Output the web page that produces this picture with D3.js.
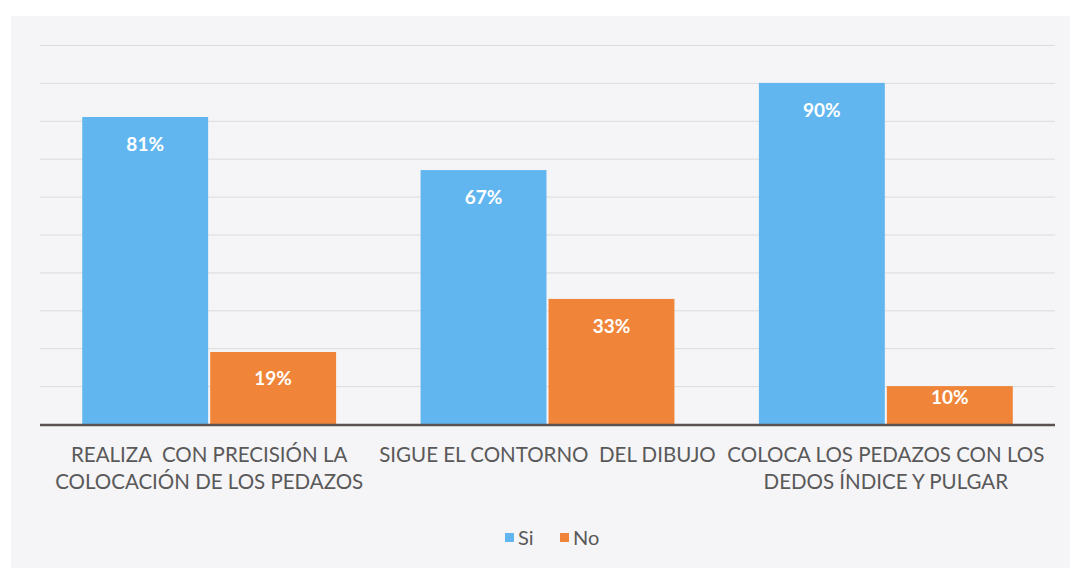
<!DOCTYPE html>
<html>
<head>
<meta charset="utf-8">
<script src="https://cdn.jsdelivr.net/npm/d3@7"></script>
<style>
  html, body { margin: 0; padding: 0; background: #ffffff; }
  svg { display: block; }
  text { font-family: Lato, "Open Sans", sans-serif; }
</style>
</head>
<body>
<div id="chart"></div>
<script>
// data
const categories = [
  ['REALIZA  CON PRECISIÓN LA', 'COLOCACIÓN DE LOS PEDAZOS'],
  ['SIGUE EL CONTORNO  DEL DIBUJO'],
  ['COLOCA LOS PEDAZOS CON LOS', 'DEDOS ÍNDICE Y PULGAR'],
];
const seriesNames = ['Si', 'No'];
const siValues = [81, 67, 90];
const noValues = [19, 33, 10];
const yTicks = [0, 10, 20, 30, 40, 50, 60, 70, 80, 90, 100];

const colors = { Si: '#62b6f0', No: '#f08539' };
const width = 1070, height = 568;
const margin = { top: 45, right: 15, bottom: 144, left: 40 };

const svg = d3.select('#chart').append('svg')
  .attr('width', width)
  .attr('height', height);

// light panel behind the chart
svg.append('rect')
  .attr('x', 11).attr('y', 16)
  .attr('width', width - 11).attr('height', height - 16)
  .attr('fill', '#f5f4f6');

const x0 = d3.scaleBand()
  .domain(d3.range(categories.length))
  .range([margin.left, width - margin.right])
  .paddingInner(0)
  .paddingOuter(0);

const x1 = d3.scaleBand()
  .domain(seriesNames)
  .range([0, x0.bandwidth()])
  .paddingInner(0.016)
  .paddingOuter(0.33);

const y = d3.scaleLinear()
  .domain([0, 100])
  .range([height - margin.bottom, margin.top]);

// gridlines
svg.append('g')
  .selectAll('line')
  .data(yTicks.slice(1))
  .join('line')
  .attr('x1', margin.left)
  .attr('x2', width - margin.right)
  .attr('y1', d => y(d) + 0.5)
  .attr('y2', d => y(d) + 0.5)
  .attr('stroke', '#dcdcdc')
  .attr('stroke-width', 1);

const rows = categories.map((c, i) => ({ idx: i, Si: siValues[i], No: noValues[i] }));

const groups = svg.append('g')
  .selectAll('g')
  .data(rows)
  .join('g')
  .attr('transform', d => `translate(${x0(d.idx)},0)`);

groups.selectAll('rect')
  .data(d => seriesNames.map(k => ({ key: k, value: d[k] })))
  .join('rect')
  .attr('x', d => x1(d.key))
  .attr('y', d => y(d.value))
  .attr('width', x1.bandwidth())
  .attr('height', d => y(0) - y(d.value))
  .attr('fill', d => colors[d.key]);

// labels sit inside the bar end, pulled up on short bars
groups.selectAll('text.val')
  .data(d => seriesNames.map(k => ({ key: k, value: d[k] })))
  .join('text')
  .attr('class', 'val')
  .attr('x', d => x1(d.key) + x1.bandwidth() / 2)
  .attr('y', d => y(d.value) + Math.min(34, (y(0) - y(d.value)) * 0.46))
  .attr('text-anchor', 'middle')
  .attr('fill', '#ffffff')
  .attr('font-weight', 'bold')
  .attr('font-size', 19)
  .text(d => d.value + '%');

// baseline
svg.append('line')
  .attr('x1', margin.left)
  .attr('x2', width - margin.right)
  .attr('y1', y(0) + 1)
  .attr('y2', y(0) + 1)
  .attr('stroke', '#5a5252')
  .attr('stroke-width', 2.5);

// category labels
const catLabels = svg.append('g')
  .selectAll('text')
  .data(categories)
  .join('text')
  .attr('x', (d, i) => x0(i) + x0.bandwidth() / 2)
  .attr('y', y(0) + 38)
  .attr('text-anchor', 'middle')
  .attr('fill', '#595959')
  .attr('font-size', 20.5)
  .style('white-space', 'pre');

catLabels.selectAll('tspan')
  .data(d => d)
  .join('tspan')
  .attr('x', function() { return d3.select(this.parentNode).attr('x'); })
  .attr('dy', (d, i) => i === 0 ? 0 : 27)
  .text(d => d);

// legend
const legend = svg.append('g').attr('transform', 'translate(505,538)');
const legendX = [0, 55];
seriesNames.forEach((name, i) => {
  legend.append('rect')
    .attr('x', legendX[i])
    .attr('y', -5)
    .attr('width', 9)
    .attr('height', 9)
    .attr('fill', colors[name]);
  legend.append('text')
    .attr('x', legendX[i] + 13)
    .attr('y', 7)
    .attr('fill', '#595959')
    .attr('font-size', 20)
    .text(name);
});
</script>
</body>
</html>
